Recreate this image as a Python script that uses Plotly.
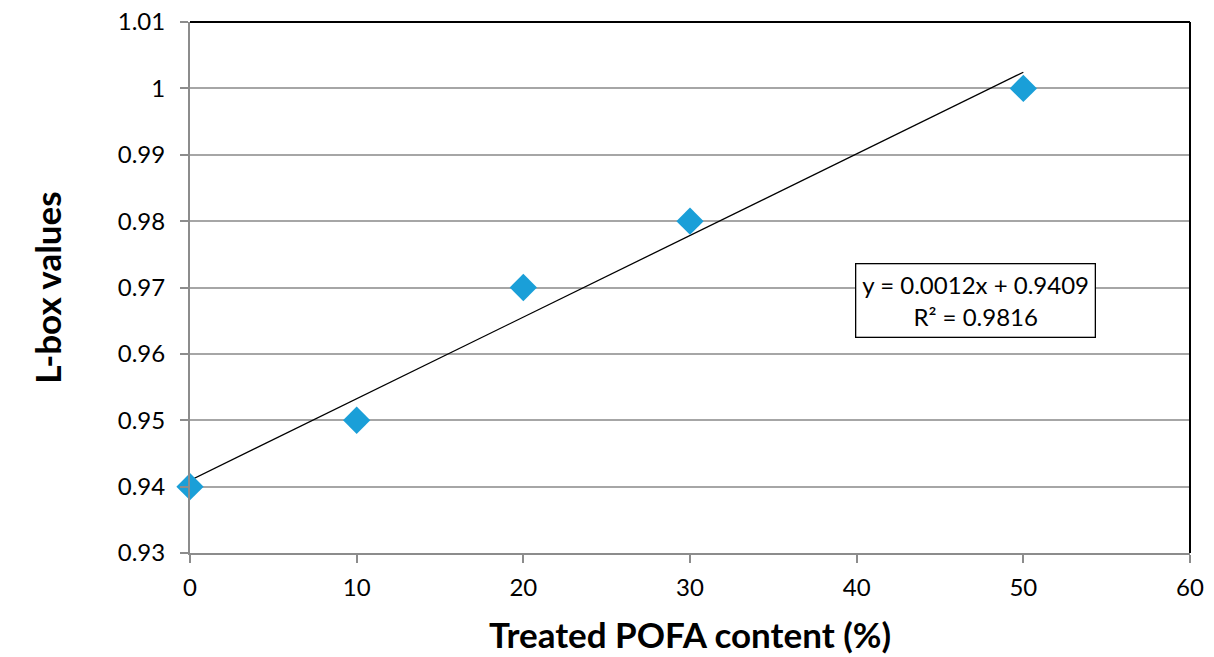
import numpy as np
import plotly.graph_objects as go

pofa = [0, 10, 20, 30, 50]
lbox = [0.94, 0.95, 0.97, 0.98, 1.00]
x_ticks = [0, 10, 20, 30, 40, 50, 60]
y_ticks = [0.93, 0.94, 0.95, 0.96, 0.97, 0.98, 0.99, 1.0, 1.01]
y_tick_labels = ["0.93", "0.94", "0.95", "0.96", "0.97", "0.98", "0.99", "1", "1.01"]

slope, intercept = np.polyfit(pofa, lbox, 1)
pred = np.polyval([slope, intercept], pofa)
r2 = 1 - np.sum((np.array(lbox) - pred) ** 2) / np.sum((np.array(lbox) - np.mean(lbox)) ** 2)
trend_x = [min(pofa), max(pofa)]
trend_y = list(np.polyval([slope, intercept], trend_x))

font_family = "Lato, sans-serif"

fig = go.Figure()
fig.add_trace(go.Scatter(x=trend_x, y=trend_y, mode="lines",
                         line=dict(color="black", width=1.3), showlegend=False, hoverinfo="skip"))
fig.add_trace(go.Scatter(x=pofa, y=lbox, mode="markers",
                         marker=dict(symbol="diamond", size=21, color="#1a9fd8"),
                         showlegend=False, cliponaxis=False))

fig.add_annotation(x=0.785, y=0.4755, xref="paper", yref="paper",
                   xanchor="center", yanchor="middle",
                   text=f"y = {slope:.4f}x + {intercept:.4f}<br>R² = {r2:.4f}",
                   showarrow=False, font=dict(size=24, color="black", family=font_family),
                   bordercolor="black", borderwidth=1.3, borderpad=6, bgcolor="white",
                   align="center")

# top and right borders
fig.add_shape(type="line", xref="paper", yref="paper", x0=0, x1=1, y0=1, y1=1,
              line=dict(color="black", width=2))
fig.add_shape(type="line", xref="paper", yref="paper", x0=1, x1=1, y0=0, y1=1,
              line=dict(color="black", width=2))

fig.update_layout(
    width=1214, height=657,
    margin=dict(l=190, r=24, t=22, b=104),
    plot_bgcolor="white", paper_bgcolor="white",
    font=dict(family=font_family, size=24, color="black"),
    xaxis=dict(range=[0, 60], tickvals=x_ticks, showgrid=False, zeroline=False,
               automargin=False,
               showline=True, linecolor="#8c8c8c", linewidth=2,
               ticks="outside", ticklen=8, tickcolor="#8c8c8c", tickwidth=1.5,
               tickfont=dict(size=24), ticklabelstandoff=4,
               title=dict(text="<b>Treated POFA content (%)</b>", font=dict(size=35), standoff=24)),
    yaxis=dict(range=[0.93, 1.01], tickvals=y_ticks, ticktext=y_tick_labels,
               automargin=False,
               showgrid=True, gridcolor="#a6a6a6", gridwidth=1.5, zeroline=False,
               showline=True, linecolor="#8c8c8c", linewidth=2,
               ticks="outside", ticklen=8, tickcolor="#8c8c8c", tickwidth=1.5,
               tickfont=dict(size=24), ticklabelstandoff=10,
               title=dict(text="<b>L-box values</b>", font=dict(size=35), standoff=46)),
)

fig.write_html("out.html", config={"displayModeBar": False},
               post_script="document.body.style.margin='0';document.body.style.overflow='hidden';")
